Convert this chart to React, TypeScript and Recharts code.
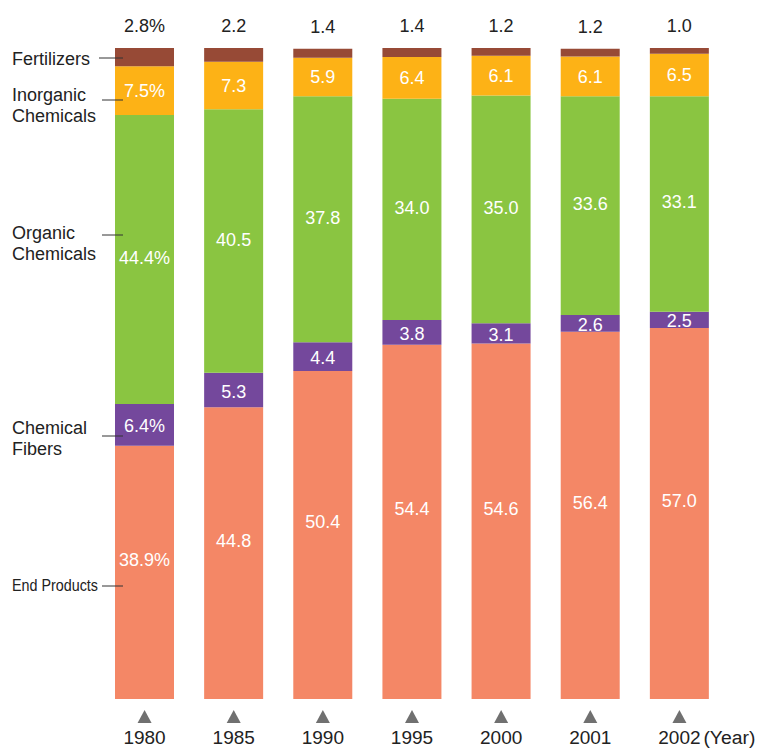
import React from 'react';
import {BarChart, Bar, XAxis, YAxis, LabelList} from 'recharts';

const years = ['1980', '1985', '1990', '1995', '2000', '2001', '2002'];
const endProducts = [38.9, 44.8, 50.4, 54.4, 54.6, 56.4, 57.0];
const chemicalFibers = [6.4, 5.3, 4.4, 3.8, 3.1, 2.6, 2.5];
const organicChemicals = [44.4, 40.5, 37.8, 34.0, 35.0, 33.6, 33.1];
const inorganicChemicals = [7.5, 7.3, 5.9, 6.4, 6.1, 6.1, 6.5];
const fertilizers = [2.8, 2.2, 1.4, 1.4, 1.2, 1.2, 1.0];

const COLORS = {
    endProducts: '#F48766',
    chemicalFibers: '#74489C',
    organicChemicals: '#8AC541',
    inorganicChemicals: '#FDB216',
    fertilizers: '#974A36',
};

const FONT = '"Liberation Sans", Arial, Helvetica, sans-serif';

// first column carries the percent sign, the rest are plain numbers
const fmt = (v: number, i: number) => v.toFixed(1) + (i === 0 ? '%' : '');

const data = years.map((year, i) => ({
    year,
    endProducts: endProducts[i],
    chemicalFibers: chemicalFibers[i],
    organicChemicals: organicChemicals[i],
    inorganicChemicals: inorganicChemicals[i],
    fertilizers: fertilizers[i],
    endLabel: fmt(endProducts[i], i),
    fiberLabel: fmt(chemicalFibers[i], i),
    organicLabel: fmt(organicChemicals[i], i),
    inorganicLabel: fmt(inorganicChemicals[i], i),
    fertLabel: fmt(fertilizers[i], i),
}));

const insideLabel = (dy: number) => (p: any) => {
    const x = Number(p.x) + Number(p.width) / 2;
    const y = Number(p.y) + Number(p.height) / 2 + dy;
    return (
        <text x={x} y={y} dy="0.36em" textAnchor="middle" fill="#fff" fontSize={18} fontFamily={FONT}>
            {p.value}
        </text>
    );
};

const YearTick = (props: any) => {
    const {x, y, payload, index} = props;
    const last = index === years.length - 1;
    return (
        <g>
            <path d={`M${x},${y + 11} L${x + 7},${y + 24} L${x - 7},${y + 24} Z`} fill="#707070" />
            <text x={x} y={y + 45} textAnchor="middle" fill="#222" fontSize={19} fontFamily={FONT}>
                {payload.value}
            </text>
            {last && (
                <text x={x + 24} y={y + 45} textAnchor="start" fill="#222" fontSize={18} fontFamily={FONT}
                      textLength={52} lengthAdjust="spacingAndGlyphs">
                    (Year)
                </text>
            )}
        </g>
    );
};

// category names on the left with short leader lines into the first bar
const sideLabels = [
    {lines: ['Fertilizers'], y: 65, lineY: 58, x1: 99},
    {lines: ['Inorganic', 'Chemicals'], y: 101, lineY: 100, x1: 102},
    {lines: ['Organic', 'Chemicals'], y: 239, lineY: 235, x1: 102},
    {lines: ['Chemical', 'Fibers'], y: 434, lineY: 436, x1: 102},
];

export default function App() {
    return (
        <div style={{position: 'absolute', left: 0, top: 0, width: 759, height: 749, background: '#fff'}}>
            <BarChart
                width={759}
                height={749}
                data={data}
                margin={{top: 48, right: 35, left: 100, bottom: 0}}
                barSize={59}
            >
                <XAxis
                    dataKey="year"
                    axisLine={false}
                    tickLine={false}
                    tickSize={0}
                    tickMargin={0}
                    height={50}
                    interval={0}
                    tick={<YearTick />}
                />
                <YAxis hide domain={[0, 100]} allowDataOverflow />
                <Bar dataKey="endProducts" stackId="a" fill={COLORS.endProducts} isAnimationActive={false}>
                    <LabelList dataKey="endLabel" content={insideLabel(-13)} />
                </Bar>
                <Bar dataKey="chemicalFibers" stackId="a" fill={COLORS.chemicalFibers} isAnimationActive={false}>
                    <LabelList dataKey="fiberLabel" content={insideLabel(1)} />
                </Bar>
                <Bar dataKey="organicChemicals" stackId="a" fill={COLORS.organicChemicals} isAnimationActive={false}>
                    <LabelList dataKey="organicLabel" content={insideLabel(-2)} />
                </Bar>
                <Bar dataKey="inorganicChemicals" stackId="a" fill={COLORS.inorganicChemicals} isAnimationActive={false}>
                    <LabelList dataKey="inorganicLabel" content={insideLabel(0)} />
                </Bar>
                <Bar dataKey="fertilizers" stackId="a" fill={COLORS.fertilizers} isAnimationActive={false}>
                    <LabelList
                        dataKey="fertLabel"
                        position="top"
                        offset={16}
                        fill="#222"
                        fontSize={18}
                        fontFamily={FONT}
                    />
                </Bar>
            </BarChart>
            <svg
                width={759}
                height={749}
                style={{position: 'absolute', left: 0, top: 0, pointerEvents: 'none'}}
            >
                {sideLabels.map((s) => (
                    <g key={s.lines[0]}>
                        <text x={12} y={s.y} fill="#222" fontSize={18} fontFamily={FONT}>
                            {s.lines.map((l, i) => (
                                <tspan key={l} x={12} dy={i === 0 ? 0 : 21}>
                                    {l}
                                </tspan>
                            ))}
                        </text>
                        <line x1={s.x1} x2={123} y1={s.lineY} y2={s.lineY} stroke="#333" strokeWidth={1} />
                    </g>
                ))}
                <text x={12} y={591} fill="#222" fontSize={17} fontFamily={FONT}
                      textLength={86} lengthAdjust="spacingAndGlyphs">
                    End Products
                </text>
                <line x1={102} x2={123} y1={586} y2={586} stroke="#333" strokeWidth={1} />
            </svg>
        </div>
    );
}
